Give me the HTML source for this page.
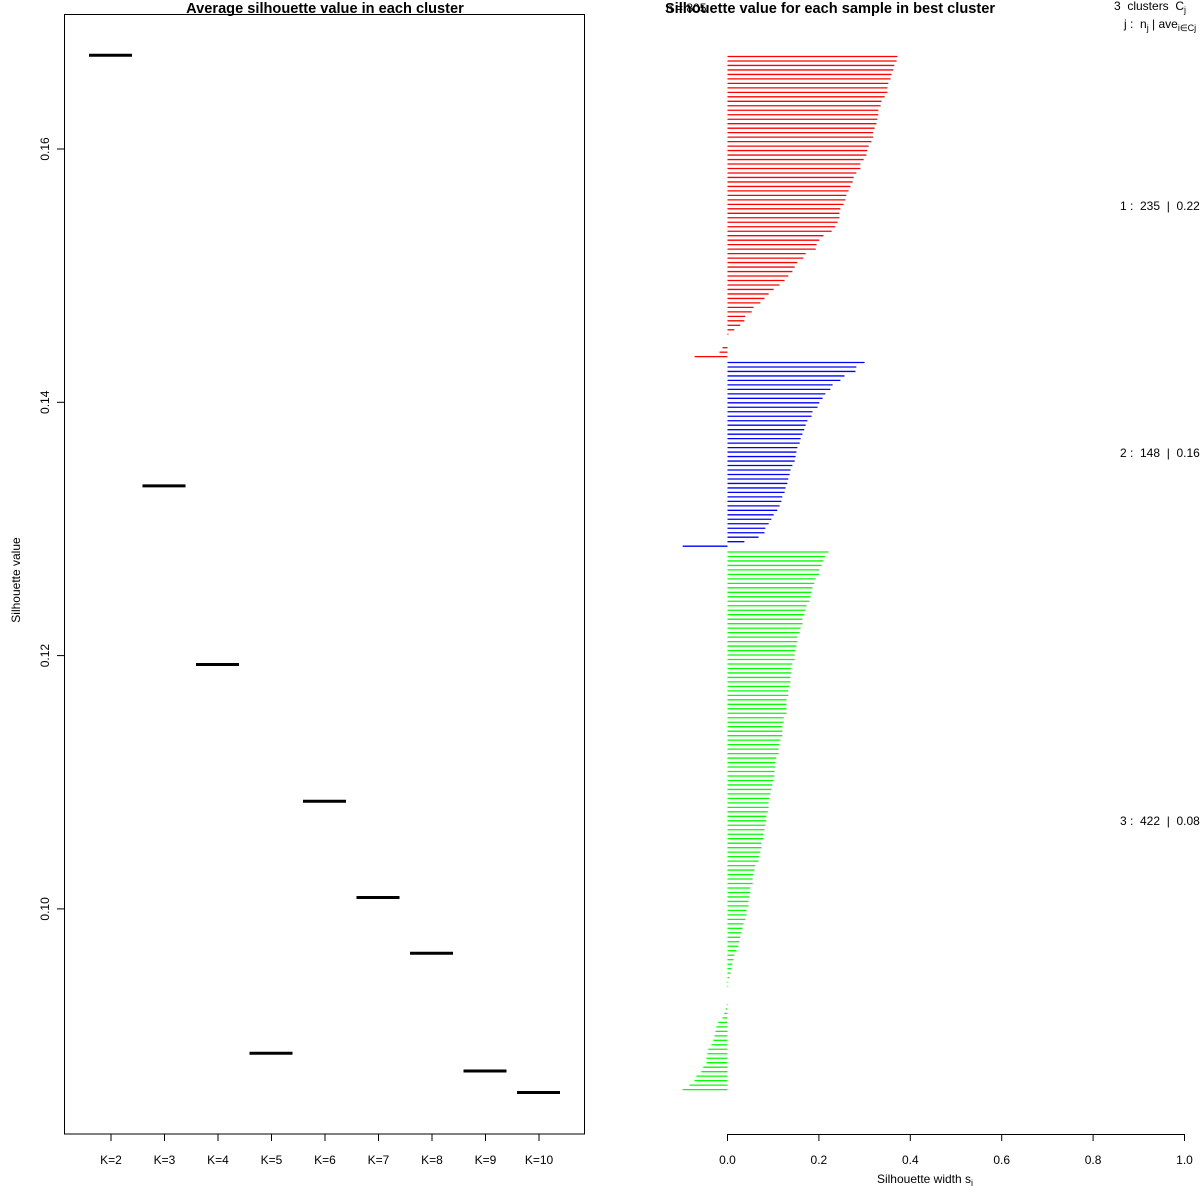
<!DOCTYPE html>
<html><head><meta charset="utf-8"><style>
html,body{margin:0;padding:0;background:#fff}
svg{display:block;font-family:"Liberation Sans",sans-serif}
text{white-space:pre}
</style></head><body>
<svg id="chart" width="1200" height="1200" viewBox="0 0 1200 1200" xmlns="http://www.w3.org/2000/svg">
<rect width="1200" height="1200" fill="#fff"/>
<g id="left">
<text x="325" y="13" font-size="14.6" font-weight="bold" text-anchor="middle">Average silhouette value in each cluster</text>
<rect x="64.5" y="14.5" width="520" height="1119.5" fill="none" stroke="#000" stroke-width="1"/>
<text transform="translate(20,580) rotate(-90)" font-size="12" text-anchor="middle">Silhouette value</text>
</g>
<g id="right">
<text x="666" y="12" font-size="12">n = 805</text>
<text x="830" y="13" font-size="14.6" font-weight="bold" text-anchor="middle">Silhouette value for each sample in best cluster</text>
<text x="1114" y="10" font-size="12">3  clusters  C<tspan font-size="9" dy="3">j</tspan></text>
<text x="1124" y="28" font-size="12">j :  n<tspan font-size="9" dy="3">j</tspan><tspan dy="-3"> | ave</tspan><tspan font-size="9" dy="3">i∈Cj</tspan><tspan dy="-3">  s</tspan><tspan font-size="9" dy="3">i</tspan></text>
<text x="925" y="1183" font-size="12" text-anchor="middle">Silhouette width s<tspan font-size="9" dy="3">i</tspan></text>
</g>
</svg>
<script>
const kLabels = ["K=2","K=3","K=4","K=5","K=6","K=7","K=8","K=9","K=10"];
const avgSil = [0.1674,0.1334,0.1193,0.0886,0.1085,0.1009,0.0965,0.0872,0.0855];
const yTicks = [0.10,0.12,0.14,0.16];
const xTicks = [0.0,0.2,0.4,0.6,0.8,1.0];
const clusterNames = ["1","2","3"];
const clusterSizes = [235,148,422];
const clusterAvg = ["0.22","0.16","0.08"];
const clusterColors = ["#ff0000","#0000ff","#00ff00"];
const sil1 = [0.372,0.370,0.365,0.363,0.359,0.357,0.352,0.350,0.350,0.344,0.337,0.335,0.330,0.330,0.328,0.326,0.322,0.319,0.319,0.315,0.309,0.306,0.304,0.298,0.291,0.291,0.282,0.276,0.274,0.269,0.265,0.260,0.258,0.254,0.247,0.245,0.245,0.241,0.236,0.228,0.210,0.201,0.195,0.193,0.171,0.166,0.153,0.147,0.142,0.133,0.125,0.114,0.101,0.090,0.081,0.072,0.057,0.053,0.039,0.037,0.028,0.015,0.002,0,0,-0.011,-0.0175,-0.072];
const sil2 = [0.300,0.282,0.280,0.256,0.247,0.230,0.225,0.214,0.208,0.201,0.197,0.186,0.184,0.175,0.171,0.168,0.164,0.160,0.158,0.153,0.151,0.149,0.147,0.142,0.138,0.136,0.133,0.131,0.127,0.125,0.120,0.118,0.114,0.109,0.101,0.096,0.090,0.083,0.081,0.068,0.037,-0.098];
const sil3 = [0.221,0.214,0.210,0.206,0.201,0.201,0.193,0.190,0.186,0.184,0.182,0.179,0.173,0.171,0.168,0.164,0.164,0.160,0.158,0.153,0.153,0.151,0.149,0.147,0.147,0.142,0.140,0.140,0.138,0.138,0.136,0.133,0.133,0.129,0.129,0.129,0.129,0.123,0.123,0.120,0.120,0.120,0.116,0.114,0.112,0.112,0.107,0.105,0.105,0.103,0.103,0.101,0.098,0.096,0.094,0.092,0.090,0.090,0.088,0.085,0.085,0.083,0.081,0.079,0.079,0.074,0.074,0.072,0.070,0.068,0.061,0.059,0.057,0.055,0.055,0.050,0.050,0.048,0.046,0.046,0.042,0.042,0.039,0.035,0.033,0.031,0.028,0.026,0.024,0.020,0.015,0.013,0.011,0.009,0.007,0.004,0.0015,0.0015,0,0,0,-0.0015,-0.004,-0.007,-0.011,-0.020,-0.024,-0.026,-0.028,-0.031,-0.035,-0.042,-0.044,-0.046,-0.046,-0.053,-0.057,-0.068,-0.072,-0.083,-0.098];
const silClusters = [sil1,sil2,sil3];

const NS = "http://www.w3.org/2000/svg";
function mk(tag, attrs, parent){const e=document.createElementNS(NS,tag);for(const k in attrs)e.setAttribute(k,attrs[k]);parent.appendChild(e);return e;}
const left = document.getElementById('left');
const right = document.getElementById('right');

const yL = v => 149 + (0.16 - v) * (253.3/0.02);
const xL = i => 111 + i * 53.5;
yTicks.forEach(t => {
  const y = yL(t);
  const tk = mk('line',{x1:57,x2:64.5,y1:y,y2:y,stroke:'#000'},left);
  
  
  const lb = mk('text',{transform:`translate(49,${y}) rotate(-90)`,'font-size':12,'text-anchor':'middle'},left);
  lb.textContent = t.toFixed(2);
  
  
});
kLabels.forEach((k,i) => {
  const x = xL(i);
  const tk = mk('line',{x1:x,x2:x,y1:1134,y2:1141,stroke:'#000'},left);
  
  
  const lb = mk('text',{x:x,y:1164,'font-size':12,'text-anchor':'middle'},left);
  lb.textContent = k;
  
  
  const y = yL(avgSil[i]);
  const seg = mk('line',{x1:x-22,x2:x+21,y1:y,y2:y,stroke:'#000','stroke-width':3},left);
  
  
});

const xR = v => 727.5 + v * 457;
const axis = mk('line',{x1:xR(0),x2:xR(1),y1:1134.5,y2:1134.5,stroke:'#000'},right);


xTicks.forEach(t => {
  const x = xR(t);
  const tk = mk('line',{x1:x,x2:x,y1:1134,y2:1141,stroke:'#000'},right);
  
  
  const lb = mk('text',{x:x,y:1164,'font-size':12,'text-anchor':'middle'},right);
  lb.textContent = t.toFixed(1);
  
  
});
const step = 4.48, gap = 0.3, top0 = 56.5;
let slot = 0;
const labelYs = [210,457,825];
silClusters.forEach((arr,c) => {
  arr.forEach(v => {
    const y = top0 + slot*step;
    if (v !== 0) {
      const b = mk('line',{x1:xR(0),x2:xR(v),y1:y,y2:y,stroke:clusterColors[c],'stroke-width':1.3},right);
      
      
    }
    slot++;
  });
  slot += gap;
  const lb = mk('text',{x:1120,y:labelYs[c],'font-size':12},right);
  lb.textContent = `${clusterNames[c]} :  ${clusterSizes[c]}  |  ${clusterAvg[c]}`;
  
  
});
</script>
</body></html>
